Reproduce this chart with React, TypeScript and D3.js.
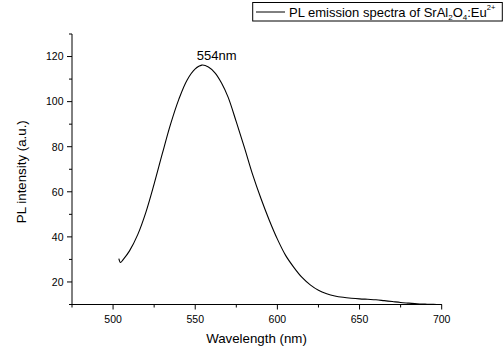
import React from "react";
import * as d3 from "d3";

const wavelengths = [503.5, 504.5, 506, 510, 515, 520, 525, 530, 535, 540, 545, 550, 554, 558, 562, 566, 570, 575, 580, 585, 590, 595, 600, 605, 610, 615, 620, 625, 630, 635, 640, 645, 650, 655, 660, 665, 670, 675, 680, 685, 690, 695, 700];
const intensities = [30.3, 28.6, 29.8, 33.8, 41, 51, 63.5, 77, 90, 101, 109.5, 114.5, 116.2, 115.4, 112.8, 108.3, 102, 91, 79.5, 67.5, 57, 47.5, 39, 31.8, 26.5, 22, 18.7, 16.3, 14.8, 13.8, 13.2, 12.8, 12.5, 12.3, 12.1, 11.7, 11.3, 10.9, 10.6, 10.3, 10.15, 10.05, 10.0];
const xMajorTicks = [500, 550, 600, 650, 700];
const xMinorTicks = [475, 525, 575, 625, 675];
const yMajorTicks = [20, 40, 60, 80, 100, 120];
const yMinorTicks = [10, 30, 50, 70, 90, 110, 130];
const legendLabel = "PL emission spectra of SrAl";
const peakLabel = "554nm";
const xTitle = "Wavelength (nm)";
const yTitle = "PL intensity (a.u.)";

export default function App() {
  const W = 504, H = 349;
  const left = 72, right = 441.7, top = 34, bottom = 304.5;
  const x = d3.scaleLinear().domain([475, 700]).range([left, right]);
  const y = d3.scaleLinear().domain([10, 130]).range([bottom, top]);
  const data = wavelengths.map((w, i) => [w, intensities[i]] as [number, number]);
  const line = d3.line<[number, number]>().x(d => x(d[0])).y(d => y(d[1])).curve(d3.curveCatmullRom.alpha(0.5));
  const font = "Liberation Sans, Arial, sans-serif";
  return (
    <svg width={W} height={H} style={{ position: "absolute", left: 0, top: 0, background: "#fff" }} fontFamily={font}>
      <rect x={0} y={0} width={W} height={H} fill="#fff" />
      {/* legend */}
      <rect x={252.7} y={2.5} width={249.6} height={18.5} fill="#fff" stroke="#000" strokeWidth={1} />
      <line x1={256} x2={285} y1={12} y2={12} stroke="#000" strokeWidth={1} />
      <text x={289} y={16.5} fontSize={13} fill="#000">
        {legendLabel}
        <tspan fontSize={8} dy={3}>2</tspan>
        <tspan fontSize={13} dy={-3}>O</tspan>
        <tspan fontSize={8} dy={3}>4</tspan>
        <tspan fontSize={13} dy={-3}>:Eu</tspan>
        <tspan fontSize={7.5} dy={-6.5}>2+</tspan>
      </text>
      {/* axes */}
      <line x1={left} x2={right} y1={bottom} y2={bottom} stroke="#000" strokeWidth={1} />
      <line x1={left} x2={left} y1={top} y2={bottom} stroke="#000" strokeWidth={1} />
      {xMajorTicks.map(t => (
        <g key={"xm" + t}>
          <line x1={x(t)} x2={x(t)} y1={bottom} y2={bottom + 5} stroke="#000" />
          <text x={x(t)} y={bottom + 18.5} fontSize={10.5} textAnchor="middle" fill="#000">{t}</text>
        </g>
      ))}
      {xMinorTicks.map(t => (
        <line key={"xn" + t} x1={x(t)} x2={x(t)} y1={bottom} y2={bottom + 3} stroke="#000" />
      ))}
      {yMajorTicks.map(t => (
        <g key={"ym" + t}>
          <line x1={left - 5} x2={left} y1={y(t)} y2={y(t)} stroke="#000" />
          <text x={left - 8.5} y={y(t) + 3.8} fontSize={10.5} textAnchor="end" fill="#000">{t}</text>
        </g>
      ))}
      {yMinorTicks.map(t => (
        <line key={"yn" + t} x1={left - 3} x2={left} y1={y(t)} y2={y(t)} stroke="#000" />
      ))}
      <text x={256.5} y={343} fontSize={13.3} textAnchor="middle" fill="#000">{xTitle}</text>
      <text transform={`translate(26,171.7) rotate(-90)`} fontSize={13.3} textAnchor="middle" fill="#000">{yTitle}</text>
      <path d={line(data) ?? ""} fill="none" stroke="#000" strokeWidth={1.1} />
      <text x={x(563)} y={y(118.3)} fontSize={13} textAnchor="middle" fill="#000">{peakLabel}</text>
    </svg>
  );
}
